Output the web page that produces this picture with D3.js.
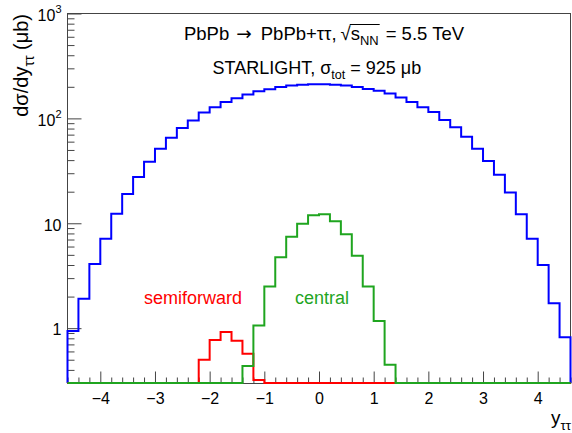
<!DOCTYPE html>
<html><head><meta charset="utf-8">
<script src="https://cdn.jsdelivr.net/npm/d3@7"></script>
<style>
html,body{margin:0;padding:0;background:#fff;}
svg{display:block;font-family:"Liberation Sans",Arial,Helvetica,sans-serif;}
</style></head><body>
<svg id="chart" width="572" height="433"></svg>
<script>
// Rapidity binning of the tau-pair: 46 bins of width 0.2 from -4.6 to 4.6
const binWidth = 0.2;
const binLow = d3.range(46).map(i => Math.round((-4.6 + binWidth * i) * 10) / 10);

// dσ/dy (μb) for all events
const totalValues = [
  0.94, 1.91, 4.1, 7.1, 12.3, 19.0, 27.6, 38.6, 51.3, 65.4, 80.8, 95.7,
  114, 128, 143, 156, 169, 181, 190, 199, 206, 209, 212,
  212, 209, 206, 199, 191, 183, 173, 158, 143, 128, 115, 96.3, 82.1,
  66.8, 51.3, 39.2, 29.0, 19.6, 12.2, 7.1, 4.0, 1.73, 0.82
];
// semiforward selection
const semiforwardValues = [
  0, 0, 0, 0, 0, 0, 0, 0, 0, 0, 0, 0,
  0.50, 0.77, 0.92, 0.76, 0.57, 0.32,
  0, 0, 0, 0, 0, 0, 0, 0, 0, 0, 0, 0, 0, 0, 0, 0, 0, 0, 0, 0, 0, 0, 0, 0, 0, 0, 0, 0
];
// central selection
const centralValues = [
  0, 0, 0, 0, 0, 0, 0, 0, 0, 0, 0, 0, 0, 0, 0, 0,
  0.435, 1.06, 2.49, 4.75, 7.45, 9.9, 11.9, 12.2, 10.45, 7.87, 4.9, 2.49, 1.17, 0.447,
  0, 0, 0, 0, 0, 0, 0, 0, 0, 0, 0, 0, 0, 0, 0, 0
];

const xTicks = [-4, -3, -2, -1, 0, 1, 2, 3, 4];
const xTickLabels = ["\u22124", "\u22123", "\u22122", "\u22121", "0", "1", "2", "3", "4"];
const yTicks = [1, 10, 100, 1000];
const yTickLabels = [{ base: "1" }, { base: "10" }, { base: "10", exp: "2" }, { base: "10", exp: "3" }];

const xDomain = [-4.6, 4.6];
const yDomain = [0.3, 1000];

const svg = d3.select("#chart");
const frame = { left: 67.5, right: 570.5, top: 13.5, bottom: 383.5 };
const axisColor = "#444";
const font = 16;
const green = "#1fa51f";

const x = d3.scaleLinear().domain(xDomain).range([frame.left, frame.right]);
// histogram floor sits on whole pixels so the 2px outline covers the frame line cleanly
const y = d3.scaleLog().domain(yDomain).range([frame.bottom - 0.5, frame.top]);

// frame
svg.append("rect")
  .attr("x", frame.left).attr("y", frame.top)
  .attr("width", frame.right - frame.left).attr("height", frame.bottom - frame.top)
  .attr("fill", "none").attr("stroke", axisColor).attr("stroke-width", 1);

// x axis: major and minor ticks pointing into the frame
const xMinor = d3.range(-46, 47).map(i => i / 10).filter(v => Math.abs(v * 5 - Math.round(v * 5)) < 1e-6 && !Number.isInteger(v));
const gxMinor = svg.append("g").attr("transform", `translate(0,${frame.bottom})`)
  .call(d3.axisBottom(x).tickValues(xMinor).tickSize(-6).tickSizeOuter(0).tickFormat(""));
const gx = svg.append("g").attr("transform", `translate(0,${frame.bottom})`)
  .call(d3.axisBottom(x).tickValues(xTicks).tickSize(-12).tickSizeOuter(0).tickPadding(9)
    .tickFormat((d, i) => xTickLabels[i]));
[gxMinor, gx].forEach(g => {
  g.select(".domain").remove();
  g.selectAll("line").attr("stroke", axisColor);
});
gx.selectAll("text").attr("font-size", font).attr("fill", "#000")
  .attr("font-family", "Liberation Sans, Arial, sans-serif");

// y axis (log): decades and sub-decade ticks
const yMinor = [];
[0.1, 1, 10, 100].forEach(d => { for (let k = 2; k <= 9; k++) { const v = d * k; if (v >= yDomain[0] && v < yDomain[1]) yMinor.push(v); } });
const gyMinor = svg.append("g").attr("transform", `translate(${frame.left},0)`)
  .call(d3.axisLeft(y).tickValues(yMinor).tickSize(-7).tickSizeOuter(0).tickFormat(""));
const gy = svg.append("g").attr("transform", `translate(${frame.left},0)`)
  .call(d3.axisLeft(y).tickValues(yTicks).tickSize(-14).tickSizeOuter(0).tickPadding(6).tickFormat(""));
[gyMinor, gy].forEach(g => {
  g.select(".domain").remove();
  g.selectAll("line").attr("stroke", axisColor);
});
gy.selectAll("text").each(function (d, i) {
  const t = d3.select(this).attr("font-size", font).attr("fill", "#000")
    .attr("font-family", "Liberation Sans, Arial, sans-serif")
    .attr("dy", yTickLabels[i].exp ? "0.46em" : "0.42em");
  t.append("tspan").text(yTickLabels[i].base);
  if (yTickLabels[i].exp) {
    t.append("tspan").attr("font-size", 11).attr("dy", "-0.75em").text(yTickLabels[i].exp);
  }
});

// histograms drawn as step outlines
function stepPoints(values) {
  const pts = [[x(binLow[0]), y(yDomain[0])]];
  values.forEach((v, i) => {
    const yy = y(Math.max(v, yDomain[0]));
    pts.push([x(binLow[i]), yy], [x(binLow[i] + binWidth), yy]);
  });
  pts.push([x(binLow[binLow.length - 1] + binWidth), y(yDomain[0])]);
  return pts;
}
const line = d3.line();
const series = [
  { values: totalValues, color: "#0000ff" },
  { values: semiforwardValues, color: "#ff0000" },
  { values: centralValues, color: green }
];
series.forEach(s => {
  svg.append("path").attr("d", line(stepPoints(s.values)))
    .attr("fill", "none").attr("stroke", s.color).attr("stroke-width", 2)
    .attr("stroke-linejoin", "miter");
});

// rich text helper: runs with optional sub/superscript
function rich(parent, runs, size) {
  const t = parent.append("text").attr("font-size", size).attr("fill", "#000");
  let cur = 0;
  runs.forEach(r => {
    const shift = r.sub ? size * 0.3 : r.sup ? -size * 0.45 : 0;
    t.append("tspan").attr("dy", shift - cur)
      .attr("font-size", (r.sub || r.sup) ? size * 0.7 : size).text(r.t);
    cur = shift;
  });
  return t;
}

// axis titles
rich(svg.append("g").attr("transform", "translate(28,14) rotate(-90)"),
  [{ t: "d\u03c3/dy" }, { t: "\u03c4\u03c4", sub: true }, { t: " (\u03bcb)" }], 20)
  .attr("text-anchor", "end");
rich(svg.append("g").attr("transform", "translate(571,424)"),
  [{ t: "y" }, { t: "\u03c4\u03c4", sub: true }], 19)
  .attr("text-anchor", "end");

// process label: pieces laid out left to right with latex-like gaps, then centred
(function () {
  const size = 18.5, base = 39.5, centre = 324;
  const g = svg.append("g");
  const parts = [
    { runs: [{ t: "PbPb" }], gap: 7 },
    { runs: [{ t: "\u2192" }], family: "DejaVu Sans", gap: 9 },
    { runs: [{ t: "PbPb+\u03c4\u03c4," }], gap: 4 },
    { runs: [{ t: "\u221a" }], gap: 0 },
    { runs: [{ t: "s" }, { t: "NN", sub: true }], gap: 7, bar: true },
    { runs: [{ t: "= 5.5 TeV" }], gap: 0 }
  ];
  let cx = 0;
  const placed = parts.map(p => {
    const t = rich(g, p.runs, size).attr("y", base);
    if (p.family) t.attr("font-family", p.family);
    const w = t.node().getComputedTextLength();
    const item = { t, x0: cx, w, bar: p.bar };
    cx += w + p.gap;
    return item;
  });
  const total = cx;
  const off = centre - total / 2;
  placed.forEach(p => {
    p.t.attr("x", off + p.x0);
    if (p.bar) {
      g.append("line")
        .attr("x1", off + p.x0 - 1).attr("x2", off + p.x0 + p.w + 1)
        .attr("y1", base - 15).attr("y2", base - 15)
        .attr("stroke", "#000").attr("stroke-width", 1);
    }
  });
})();

// generator label
rich(svg.append("g").attr("transform", "translate(212.5,74)"),
  [{ t: "STARLIGHT, \u03c3" }, { t: "tot", sub: true }, { t: " = 925 \u03bcb" }], 18);

// curve labels
svg.append("text").attr("x", 193).attr("y", 304).attr("text-anchor", "middle")
  .attr("font-size", 18).attr("fill", "#ff0000").text("semiforward");
svg.append("text").attr("x", 322).attr("y", 304).attr("text-anchor", "middle")
  .attr("font-size", 18).attr("fill", green).text("central");
</script>
</body></html>
